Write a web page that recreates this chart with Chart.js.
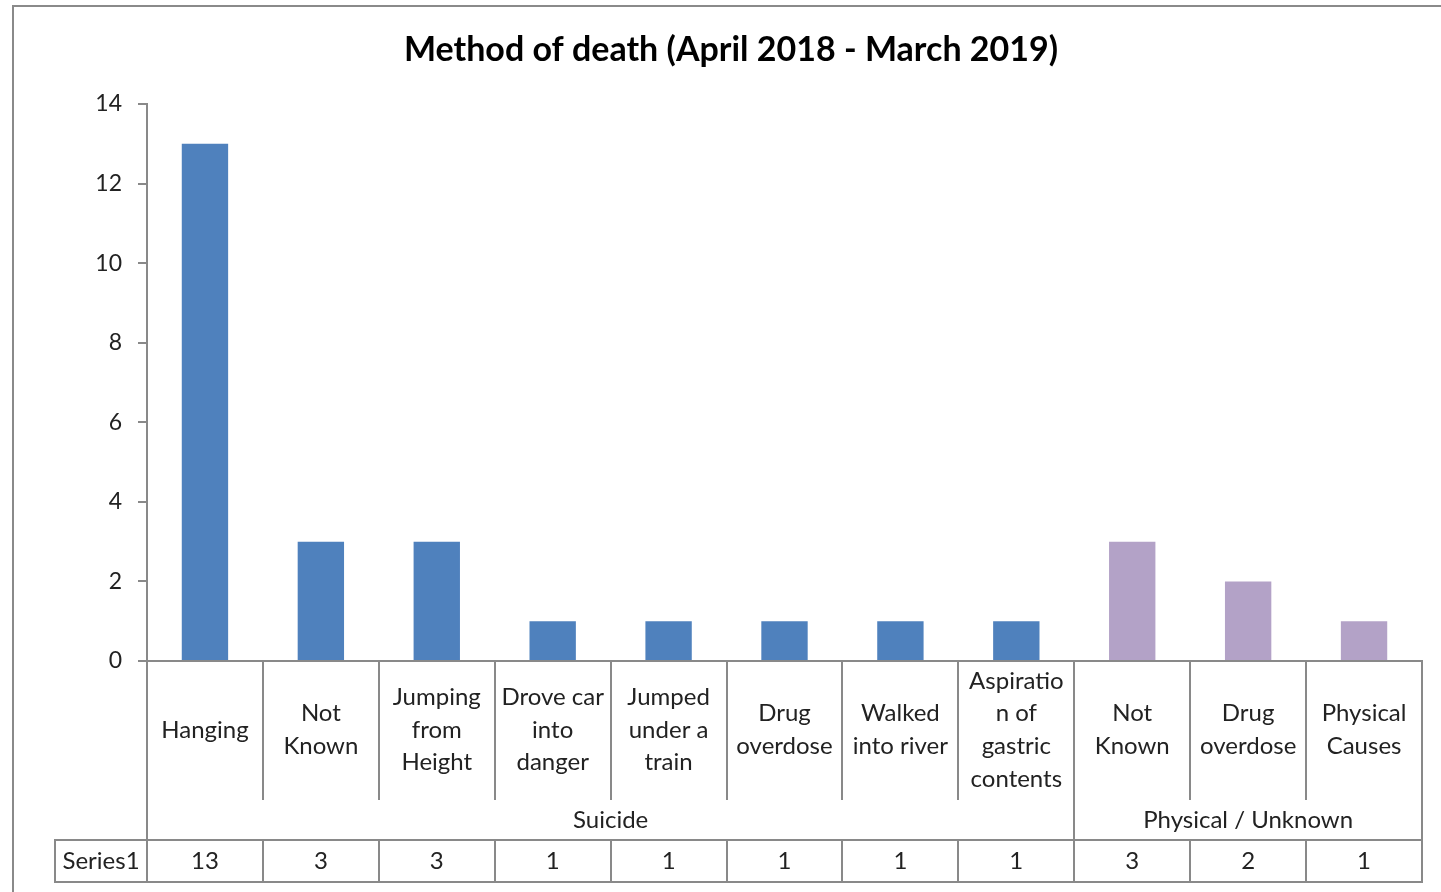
<!DOCTYPE html>
<html>
<head>
<meta charset="utf-8">
<script src="https://cdn.jsdelivr.net/npm/chart.js@4/dist/chart.umd.min.js"></script>
<style>
  html, body { margin: 0; padding: 0; background: #fff; }
  #wrap { width: 1441px; height: 892px; position: relative; }
</style>
</head>
<body>
<div id="wrap"><canvas id="c" width="1441" height="892"></canvas></div>
<script>
// Method of death, April 2018 - March 2019
const chartTitle = 'Method of death (April 2018 - March 2019)';
const categoryLines = [
  ['Hanging'],
  ['Not', 'Known'],
  ['Jumping', 'from', 'Height'],
  ['Drove car', 'into', 'danger'],
  ['Jumped', 'under a', 'train'],
  ['Drug', 'overdose'],
  ['Walked', 'into river'],
  ['Aspiratio', 'n of', 'gastric', 'contents'],
  ['Not', 'Known'],
  ['Drug', 'overdose'],
  ['Physical', 'Causes']
];
const groupNames = ['Suicide', 'Physical / Unknown'];
const groupOf = [0, 0, 0, 0, 0, 0, 0, 0, 1, 1, 1];
const seriesName = 'Series1';
const seriesValues = [13, 3, 3, 1, 1, 1, 1, 1, 3, 2, 1];
const yTicks = [0, 2, 4, 6, 8, 10, 12, 14];

const groupColors = ['#4F81BD', '#B3A2C7'];
const lineColor = '#898989';
const textColor = '#222222';
const fontFamily = 'Lato, "Open Sans", sans-serif';

// Draws the title, the outer frame and the category/data table under the axis
const tablePlugin = {
  id: 'tablePlugin',
  afterDraw(chart) {
    const ctx = chart.ctx;
    const x = chart.scales.x;
    const area = chart.chartArea;
    const n = seriesValues.length;
    const step = (area.right - area.left) / n;
    const edge = i => (i < n ? x.getPixelForValue(i) - step / 2 : x.getPixelForValue(n - 1) + step / 2);
    const yAxis = area.bottom;
    const yInner = yAxis + 139;
    const yRow = yAxis + 179;
    const yEnd = yAxis + 221;
    const xHead = 55;

    ctx.save();
    // outer frame
    ctx.strokeStyle = '#8a8a8a';
    ctx.lineWidth = 2;
    ctx.strokeRect(13, 6, 1440, 900);

    // title
    ctx.fillStyle = '#000';
    ctx.font = 'bold 34px ' + fontFamily;
    ctx.textAlign = 'center';
    ctx.textBaseline = 'middle';
    ctx.fillText(chartTitle, 731, 50);

    ctx.strokeStyle = lineColor;
    ctx.lineWidth = 2;
    const line = (x1, y1, x2, y2) => { ctx.beginPath(); ctx.moveTo(x1, y1); ctx.lineTo(x2, y2); ctx.stroke(); };

    // vertical separators
    for (let i = 0; i <= n; i++) {
      const px = Math.round(edge(i));
      const groupEdge = i === 0 || i === n || groupOf[i] !== groupOf[i - 1];
      if (groupEdge) line(px, yAxis, px, yEnd);
      else { line(px, yAxis, px, yInner); line(px, yRow, px, yEnd); }
    }
    // data row
    line(xHead, yRow, Math.round(edge(n)) + 1, yRow);
    line(xHead, yEnd, Math.round(edge(n)) + 1, yEnd);
    line(xHead, yRow - 1, xHead, yEnd + 1);

    ctx.fillStyle = textColor;
    ctx.font = '24px ' + fontFamily;
    ctx.textAlign = 'center';
    ctx.textBaseline = 'middle';
    const lh = 32.7;
    const labelMid = yAxis + 69;
    categoryLines.forEach((lines, i) => {
      const cx = x.getPixelForValue(i);
      const start = labelMid - (lines.length - 1) * lh / 2;
      lines.forEach((t, k) => ctx.fillText(t, cx, start + k * lh));
    });
    // group labels
    groupNames.forEach((g, gi) => {
      const idx = groupOf.map((v, i) => v === gi ? i : -1).filter(i => i >= 0);
      const cx = (edge(idx[0]) + edge(idx[idx.length - 1] + 1)) / 2;
      ctx.fillText(g, cx, yAxis + 159);
    });
    // values row
    seriesValues.forEach((v, i) => ctx.fillText(String(v), x.getPixelForValue(i), yRow + 21));
    ctx.fillText(seriesName, (xHead + edge(0)) / 2, yRow + 21);
    ctx.restore();
  }
};

new Chart(document.getElementById('c'), {
  type: 'bar',
  data: {
    labels: categoryLines.map(l => l.join(' ')),
    datasets: [{
      label: seriesName,
      data: seriesValues,
      backgroundColor: groupOf.map(g => groupColors[g]),
      borderWidth: 0,
      barPercentage: 0.4,
      categoryPercentage: 1.0
    }]
  },
  options: {
    responsive: false,
    animation: false,
    layout: { padding: { top: 104, right: 19, left: 0, bottom: 0 } },
    plugins: { legend: { display: false }, title: { display: false }, tooltip: { enabled: false } },
    scales: {
      x: {
        ticks: { display: false },
        grid: { display: false },
        border: { display: true, color: lineColor, width: 2 },
        afterFit(s) { s.height = 231; }
      },
      y: {
        min: 0, max: 14,
        afterBuildTicks(s) { s.ticks = yTicks.map(v => ({ value: v })); },
        ticks: { color: textColor, font: { family: fontFamily, size: 23 }, padding: 16 },
        grid: { drawOnChartArea: false, drawTicks: true, tickLength: 9, color: lineColor, lineWidth: 2 },
        border: { display: true, color: lineColor, width: 2 },
        afterFit(s) { s.width = 147; }
      }
    }
  },
  plugins: [tablePlugin]
});
</script>
</body>
</html>
